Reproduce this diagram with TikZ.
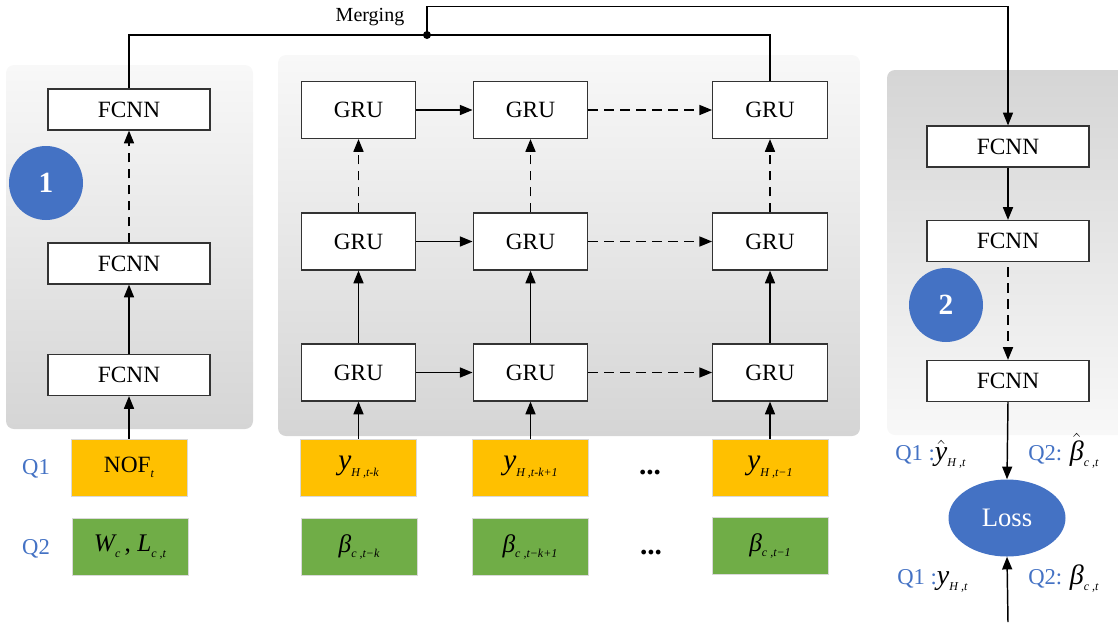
\documentclass[tikz,border=0pt]{standalone}
\usepackage{fontspec}
\setmainfont{Liberation Serif}
\usetikzlibrary{arrows.meta,shapes.geometric}

\definecolor{panelhi}{HTML}{F8F8F8}
\definecolor{panello}{HTML}{D5D5D5}
\definecolor{inyellow}{HTML}{FFC000}
\definecolor{ingreen}{HTML}{70AD47}
\definecolor{accent}{HTML}{4472C4}
\definecolor{edge}{HTML}{333333}

% small italic index set below the baseline
\newcommand\lowidx[1]{\raisebox{-0.5ex}{\fontsize{9}{9}\selectfont\itshape #1}}
\newcommand\ivar[2]{{\itshape #1}\lowidx{#2}}
\newcommand\hatvar[2]{$\hat{\hbox{\itshape #1}}$\lowidx{#2}}
% larger black variable following a coloured tag
\newcommand\bigvar[1]{\textcolor{black}{\fontsize{21}{22}\selectfont #1}}

\begin{document}
\begin{tikzpicture}[x=0.75pt,y=-0.75pt,
  panel/.style={rounded corners=6pt},
  fcbox/.style={draw=edge, line width=0.9pt, fill=white, minimum width=121.5pt,
    minimum height=30.75pt, inner sep=0pt, font=\fontsize{17.5}{20}\selectfont},
  grubox/.style={fcbox, minimum width=86pt, minimum height=42.75pt},
  inbox/.style={draw=black!15, line width=0.5pt, minimum width=87pt,
    minimum height=42.75pt, inner sep=0pt, font=\fontsize{22}{24}\selectfont},
  qin/.style={inbox, fill=inyellow},
  bin/.style={inbox, fill=ingreen, font=\fontsize{19}{20}\selectfont},
  badge/.style={circle, fill=accent, minimum size=55.5pt, inner sep=0pt,
    text=white, font=\fontsize{22}{22}\selectfont\bfseries},
  qlabel/.style={font=\fontsize{17}{20}\selectfont, text=accent, inner sep=0pt},
  arr/.style={line width=1.1pt, -{Triangle[length=9.5pt,width=7.5pt]}},
  darr/.style={arr, dash pattern=on 7pt off 5pt},
  wire/.style={line width=0.8pt},
  dotsl/.style={font=\fontsize{22}{22}\selectfont\bfseries, inner sep=0pt},
]
\useasboundingbox (0,0) rectangle (1118,622);

% background panels
\shade[panel, top color=panelhi, bottom color=panello] (6,65) rectangle (253,429);
\shade[panel, top color=panelhi, bottom color=panello] (278,55) rectangle (860,436);
\begin{scope}
  \clip (0,0) rectangle (1118,622);
  \shade[panel, top color=panello, bottom color=panelhi] (887,70) rectangle (1135,435);
\end{scope}

% left branch: fully connected layers
\node[fcbox] (f1) at (129,109.5) {FCNN};
\node[fcbox] (f2) at (129,263.5) {FCNN};
\node[fcbox] (f3) at (129,375) {FCNN};
\node[badge] (b1) at (46,183) {1};

% recurrent grid
\foreach \c/\x in {1/358.5,2/530.5,3/770}{
  \foreach \r/\y in {1/110,2/241.5,3/372.5}{
    \node[grubox] (g\r\c) at (\x,\y) {GRU};
  }
}

% right branch: output layers
\node[fcbox] (r1) at (1008,146.5) {FCNN};
\node[fcbox] (r2) at (1008,241) {FCNN};
\node[fcbox] (r3) at (1008,381) {FCNN};
\node[badge] (b2) at (946,305) {2};
\node[ellipse, fill=accent, minimum width=87.75pt, minimum height=57.75pt,
  inner sep=0pt, text=white, font=\fontsize{20}{20}\selectfont] (loss) at (1007,518) {Loss};

% inputs
\node[qlabel] (lq1) at (36,469) {Q1};
\node[qlabel] (lq2) at (36,549) {Q2};
\node[qin] (nof) at (129,467.5) {\fontsize{17.5}{20}\selectfont NOF\lowidx{t}};
\node[bin] (wl) at (130,547) {\ivar{W}{c}\,, \ivar{L}{c ,t}};
\node[qin] (y1) at (358.5,467.5) {\ivar{y}{H ,t-k}};
\node[qin] (y2) at (530.5,467.5) {\ivar{y}{H ,t-k+1}};
\node[qin] (y3) at (770,467.5) {\ivar{y}{H ,t−1}};
\node[bin] (be1) at (359,547) {\ivar{β}{c ,t−k}};
\node[bin] (be2) at (530,547) {\ivar{β}{c ,t−k+1}};
\node[bin] (be3) at (770,546) {\ivar{β}{c ,t−1}};
\node[dotsl] (d1) at (650,473) {...};
\node[dotsl] (d2) at (651,553) {...};

% loss labels
\node[qlabel, anchor=base west] (qo1) at (895,460) {Q1 :\bigvar{\hatvar{y}{H ,t}}};
\node[qlabel, anchor=base west] (qo2) at (1028,460) {Q2: \bigvar{\hatvar{β}{c ,t}}};
\node[qlabel, anchor=base west] (qt1) at (897,584) {Q1 :\bigvar{\ivar{y}{H ,t}}};
\node[qlabel, anchor=base west] (qt2) at (1028,584) {Q2: \bigvar{\ivar{β}{c ,t}}};
\coordinate (target) at (1008,622);

% connections: left branch
\draw[arr] (nof.north) -- (f3.south);
\draw[arr] (f3.north) -- (f2.south);
\draw[darr] (f2.north) -- (f1.south);

% connections: recurrent grid
\foreach \c in {1,2,3}{
  \draw[arr] (y\c.north) -- (g3\c.south);
  \draw[arr] (g3\c.north) -- (g2\c.south);
  \draw[darr] (g2\c.north) -- (g1\c.south);
}
\foreach \r in {1,2,3}{
  \draw[arr] (g\r1.east) -- (g\r2.west);
  \draw[darr] (g\r2.east) -- (g\r3.west);
}

% merging of both branches
\coordinate (merge) at (427,35);
\coordinate (mtop) at (427,6.5);
\draw[wire] (f1.north) |- (merge) -| (g13.north);
\draw[wire, -{Triangle[length=9.5pt,width=7.5pt]}] (merge) -- (mtop) -| (r1.north);
\fill (merge) circle (3pt);
\node[font=\fontsize{15}{15}\selectfont] (mlabel) at (370,17) {Merging};

% connections: right branch
\draw[arr] (r1.south) -- (r2.north);
\draw[darr, shorten <=4pt] (r2.south) -- (r3.north);
\draw[arr] (r3.south) -- (loss.north);
\draw[arr] (target) -- (loss.south);
\end{tikzpicture}
\end{document}
